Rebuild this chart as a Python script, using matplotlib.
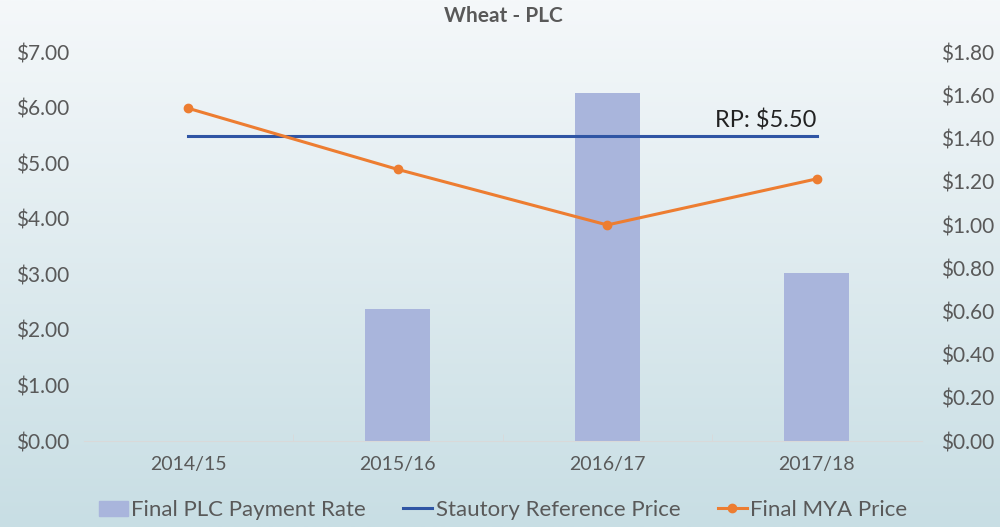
import numpy as np
import matplotlib.pyplot as plt
from matplotlib.patches import Patch
from matplotlib.lines import Line2D
from matplotlib.colors import LinearSegmentedColormap

plt.rcParams['font.family'] = ['Lato', 'DejaVu Sans']

years = ['2014/15', '2015/16', '2016/17', '2017/18']
plc_rate = [0.00, 0.61, 1.61, 0.78]      # right axis
ref_price = [5.50, 5.50, 5.50, 5.50]     # left axis
mya_price = [5.99, 4.89, 3.89, 4.72]     # left axis

bar_color = '#a9b5dc'
blue = '#2f55a4'
orange = '#ed7d31'
grey = '#595959'

fig = plt.figure(figsize=(10, 5.27), dpi=100)

# background gradient
bg = fig.add_axes([0, 0, 1, 1], zorder=-10)
grad = np.linspace(0, 1, 256).reshape(-1, 1)
cmap = LinearSegmentedColormap.from_list('bg', ['#f5f8fa', '#c8dee4'])
bg.imshow(grad, aspect='auto', cmap=cmap, extent=[0, 1, 0, 1])
bg.axis('off')

ax = fig.add_axes([0.0835, 0.163, 0.838, 0.738])
ax.patch.set_alpha(0)
ax2 = ax.twinx()
x = np.arange(len(years))

ax2.bar(x, plc_rate, width=0.31, color=bar_color, zorder=1)
ax2.set_ylim(0, 1.8)
ax2.set_yticks(np.arange(0, 1.81, 0.2))
ax2.set_yticklabels(['${:.2f}'.format(v) for v in np.arange(0, 1.81, 0.2)])

ax.set_zorder(ax2.get_zorder() + 1)
ax.plot(x, ref_price, color=blue, lw=2.2)
ax.plot(x, mya_price, color=orange, lw=2.2, marker='o', ms=6)
ax.set_ylim(0, 7)
ax.set_yticks(range(8))
ax.set_yticklabels(['${:.2f}'.format(v) for v in range(8)])
ax.set_xlim(-0.5, 3.5)
ax.set_xticks(x)
ax.set_xticklabels(years)
ax.text(3.0, 5.58, 'RP: $5.50', ha='right', va='bottom', fontsize=17, color='#222222')

for a in (ax, ax2):
    for s in ('top', 'left', 'right'):
        a.spines[s].set_visible(False)
    a.spines['bottom'].set_color('#d9d9d9')
    a.tick_params(axis='y', length=0, labelsize=15, labelcolor=grey)
ax.tick_params(axis='y', pad=10)
ax2.tick_params(axis='y', pad=14)
ax.tick_params(axis='x', length=0, labelsize=14, labelcolor=grey, pad=11)
ax.set_xticks([0.5, 1.5, 2.5], minor=True)
ax.tick_params(axis='x', which='minor', length=5, color='#d9d9d9', direction='in')
ax2.spines['bottom'].set_visible(False)

fig.text(0.503, 0.97, 'Wheat - PLC', ha='center', va='center', fontsize=15, fontweight='bold', color=grey)

handles = [Patch(color=bar_color),
           Line2D([], [], color=blue, lw=2.2),
           Line2D([], [], color=orange, lw=2.2, marker='o', ms=6)]
labels = ['Final PLC Payment Rate', 'Stautory Reference Price', 'Final MYA Price']
fig.legend(handles, labels, loc='center', bbox_to_anchor=(0.503, 0.032), ncol=3, frameon=False,
           fontsize=16, labelcolor=grey, handlelength=1.3, handletextpad=0.15, columnspacing=1.7)

fig.savefig('out.png', dpi=100)
